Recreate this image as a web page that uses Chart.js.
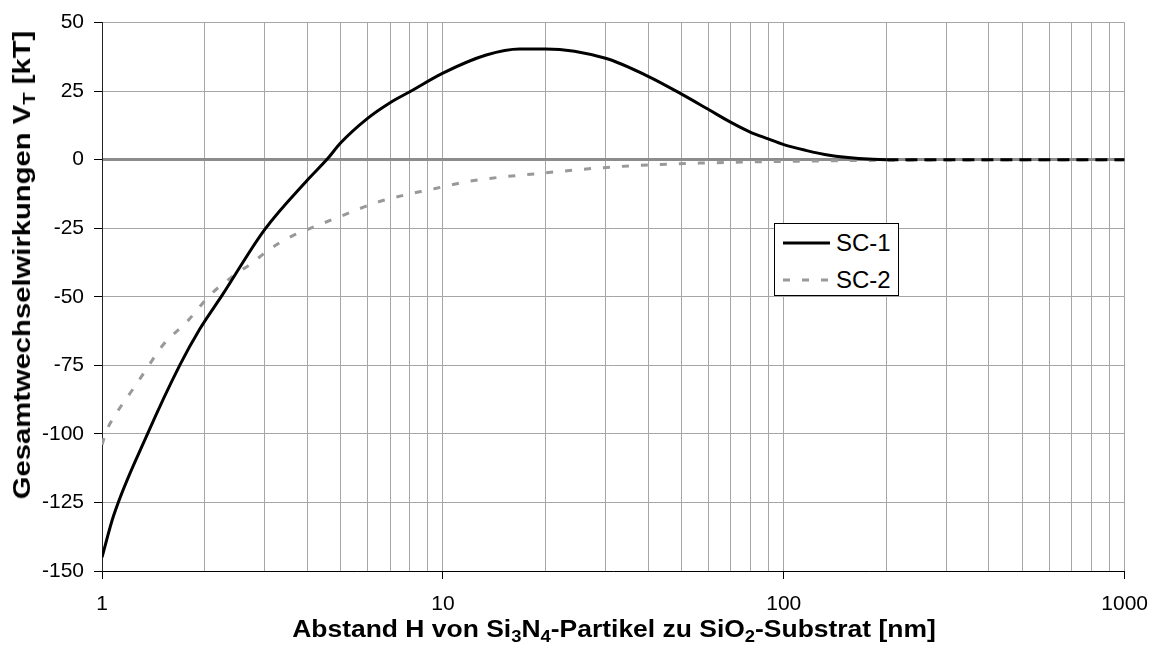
<!DOCTYPE html>
<html>
<head>
<meta charset="utf-8">
<script src="https://cdn.jsdelivr.net/npm/chart.js@4.4.1/dist/chart.umd.min.js"></script>
<style>
    body { margin: 0; background: #fff; }
    #wrap { position: relative; width: 1161px; height: 653px; font-family: "Liberation Sans", Arial, sans-serif; }
    canvas { position: absolute; left: 0; top: 0; }
    .title { position: absolute; font-weight: bold; font-size: 23px; line-height: 24px; white-space: nowrap; color: #000; }
    .title sub { font-size: 16px; vertical-align: -5px; line-height: 0; }
    /* Achsentitel im Original breiter gesetzt */
    #xTitle { left: 614px; top: 617px; transform: translateX(-50%) scaleX(1.15); }
    #yTitle { left: 22px; top: 265px; transform: translate(-50%, -50%) rotate(-90deg) scaleX(1.27); }
    #legend { position: absolute; left: 774px; top: 223px; width: 123px; height: 71px; border: 1px solid #000; background: #fff; }
    .row { position: absolute; left: 8px; height: 30px; width: 112px; }
    .row svg { position: absolute; left: 0; top: 12px; }
    .row span { position: absolute; left: 53px; top: 0; font-size: 24px; line-height: 30px; color: #000; white-space: nowrap; }
</style>
</head>
<body>
<div id="wrap">
    <canvas id="chart" width="1161" height="653"></canvas>
    <div id="yTitle" class="title">Gesamtwechselwirkungen V<sub>T</sub> [kT]</div>
    <div id="xTitle" class="title">Abstand H von Si<sub>3</sub>N<sub>4</sub>-Partikel zu SiO<sub>2</sub>-Substrat [nm]</div>
    <div id="legend">
        <div class="row" style="top: 4px;">
            <svg width="48" height="6"><line x1="0" y1="3" x2="47" y2="3" stroke="#000" stroke-width="3"/></svg>
            <span>SC-1</span>
        </div>
        <div class="row" style="top: 41px;">
            <svg width="48" height="6"><line x1="0" y1="3" x2="47" y2="3" stroke="#999" stroke-width="3" stroke-dasharray="7 12"/></svg>
            <span>SC-2</span>
        </div>
    </div>
</div>
<script>
// Abstand H [nm] und Gesamtwechselwirkung [kT]
const sc1H = [1, 1.08, 1.36, 1.69, 1.93, 2.25, 3, 4, 4.6, 5, 6, 7, 8, 10, 13.4, 16.8, 20, 30, 40, 50, 60, 70, 80, 90, 100, 116, 136, 166, 200, 300, 500, 1000];
const sc1V = [-145, -130, -100, -75, -62, -49.5, -25.5, -7.5, 0.5, 6, 15, 20.8, 24.8, 31.6, 38.2, 40.4, 40.4, 37, 30.4, 24, 18.4, 13.6, 10, 7.6, 5.5, 3.4, 1.6, 0.4, 0, 0, 0, 0];

const sc2H = [1, 1.03, 1.09, 1.23, 1.32, 1.51, 1.79, 2.07, 2.47, 2.77, 3, 3.32, 3.62, 4, 5, 6.5, 9.5, 12.2, 20, 28.7, 42, 67, 100, 200, 1000];
const sc2V = [-104, -99, -93.4, -83.8, -78.2, -67.6, -58.6, -49.5, -41.7, -37.5, -34, -30.3, -27.8, -25.5, -20.7, -15.3, -10.5, -7.7, -4.8, -3, -1.8, -1, -0.6, -0.2, 0];

// Gitterlinien und Beschriftungen
const xGridValues = [1, 2, 3, 4, 5, 6, 7, 8, 9, 10, 20, 30, 40, 50, 60, 70, 80, 90, 100, 200, 300, 400, 500, 600, 700, 800, 900, 1000];
const xLabelValues = [1, 10, 100, 1000];
const yMin = -150, yMax = 50, yStep = 25;

const fontFamily = '"Liberation Sans", Arial, sans-serif';

function toPoints(xs, ys) {
    return xs.map((x, i) => ({ x: x, y: ys[i] }));
}

const ctx = document.getElementById('chart').getContext('2d');
const chart = new Chart(ctx, {
    type: 'line',
    data: {
        datasets: [{
            label: 'SC-1',
            data: toPoints(sc1H, sc1V),
            borderColor: '#000',
            borderWidth: 3,
            pointRadius: 0,
            cubicInterpolationMode: 'monotone',
            segment: {
                // ab ca. 200 nm gestrichelt wie im Original
                borderDash: c => c.p0.parsed.x >= 200 ? [12, 7] : undefined
            }
        }, {
            label: 'SC-2',
            data: toPoints(sc2H, sc2V),
            borderColor: '#999',
            borderWidth: 3,
            borderDash: [7, 12],
            pointRadius: 0,
            cubicInterpolationMode: 'monotone'
        }]
    },
    options: {
        responsive: false,
        animation: false,
        layout: { padding: { top: 19, right: 35, left: 0, bottom: 0 } },
        plugins: {
            legend: { display: false },
            tooltip: { enabled: false }
        },
        scales: {
            x: {
                type: 'logarithmic',
                min: 1,
                max: 1000,
                afterBuildTicks: s => {
                    s.ticks = xGridValues.map(v => ({ value: v, major: xLabelValues.includes(v) }));
                },
                afterFit: s => { s.height = 82; },
                ticks: {
                    autoSkip: false,
                    maxRotation: 0,
                    padding: 13,
                    color: '#000',
                    font: { family: fontFamily, size: 21 },
                    callback: v => xLabelValues.includes(v) ? String(v) : ''
                },
                grid: {
                    color: '#a6a6a6',
                    lineWidth: 1,
                    tickLength: 8,
                    tickWidth: 1,
                    tickColor: c => (c.tick && xLabelValues.includes(c.tick.value)) ? '#000' : 'rgba(0,0,0,0)'
                },
                border: { color: '#000', width: 1 }
            },
            y: {
                min: yMin,
                max: yMax,
                afterFit: s => { s.width = 102; },
                ticks: {
                    stepSize: yStep,
                    padding: 10,
                    color: '#000',
                    font: { family: fontFamily, size: 21 }
                },
                grid: {
                    color: c => (c.tick && c.tick.value === 0) ? '#8c8c8c' : '#a6a6a6',
                    lineWidth: c => (c.tick && c.tick.value === 0) ? 3 : 1,
                    tickLength: 8,
                    tickWidth: 1,
                    tickColor: '#000'
                },
                border: { color: '#222', width: 1 }
            }
        }
    }
});
</script>
</body>
</html>
